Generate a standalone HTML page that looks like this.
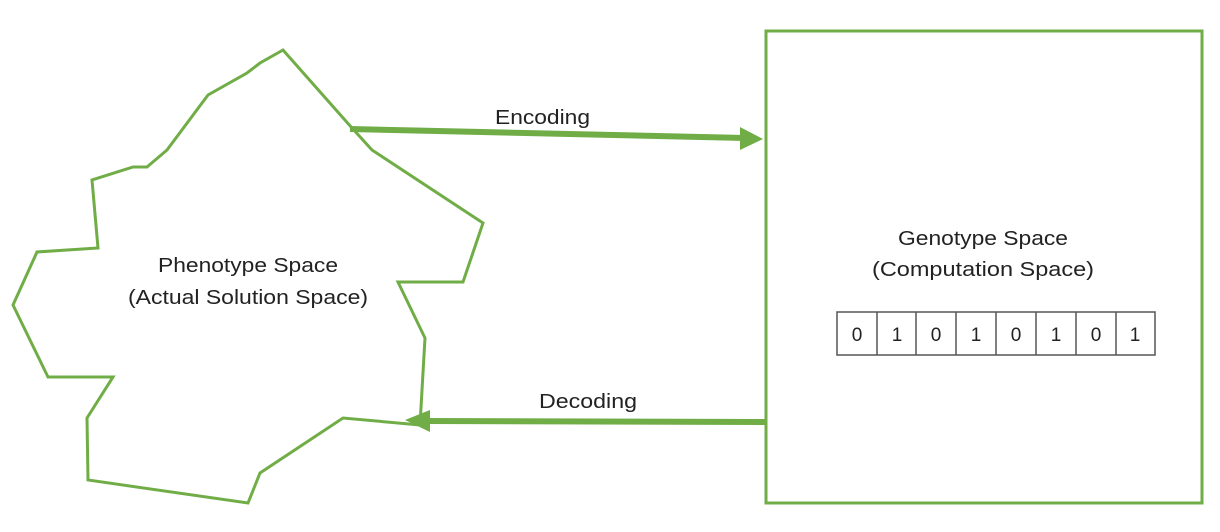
<!DOCTYPE html>
<html><head><meta charset="utf-8"><style>
body{margin:0;background:#fff;width:1220px;height:527px;overflow:hidden}
text{font-family:"Liberation Sans",sans-serif;fill:#222}
</style></head><body>
<svg width="1220" height="527" xmlns="http://www.w3.org/2000/svg">
<polygon points="283,50 260,63 247,73 208,95 167,150 147,167 133,167 92,180 98,248 37,252 13,305 48,377 113,377 87,418 88,480 248,503 260,473 343,418 420,425 425,338 398,282 463,282 483,223 372,150 352,128" fill="none" stroke="#70ad47" stroke-width="3" stroke-linejoin="miter"/>
<rect x="766" y="31" width="436" height="472" fill="none" stroke="#70ad47" stroke-width="3"/>
<line x1="350" y1="129" x2="745" y2="138" stroke="#70ad47" stroke-width="6"/>
<polygon points="740,127 763,139 740,150" fill="#70ad47"/>
<line x1="766" y1="422" x2="425" y2="421" stroke="#70ad47" stroke-width="6"/>
<polygon points="430,410 405,420 430,432" fill="#70ad47"/>
<text x="495" y="124" font-size="20" textLength="95" lengthAdjust="spacingAndGlyphs">Encoding</text>
<text x="539" y="408" font-size="20" textLength="98" lengthAdjust="spacingAndGlyphs">Decoding</text>
<text x="158" y="272" font-size="20" textLength="180" lengthAdjust="spacingAndGlyphs">Phenotype Space</text>
<text x="128" y="304" font-size="20" textLength="240" lengthAdjust="spacingAndGlyphs">(Actual Solution Space)</text>
<text x="898" y="245" font-size="20" textLength="170" lengthAdjust="spacingAndGlyphs">Genotype Space</text>
<text x="872" y="276" font-size="20" textLength="222" lengthAdjust="spacingAndGlyphs">(Computation Space)</text>
<g stroke="#555" stroke-width="1.5" fill="none">
<rect x="837" y="312" width="318" height="43"/>
<line x1="877" y1="312" x2="877" y2="355"/><line x1="916" y1="312" x2="916" y2="355"/>
<line x1="956" y1="312" x2="956" y2="355"/><line x1="996" y1="312" x2="996" y2="355"/>
<line x1="1036" y1="312" x2="1036" y2="355"/><line x1="1076" y1="312" x2="1076" y2="355"/>
<line x1="1116" y1="312" x2="1116" y2="355"/>
</g>
<g font-size="19" text-anchor="middle">
<text x="857" y="341">0</text><text x="897" y="341">1</text><text x="936" y="341">0</text><text x="976" y="341">1</text>
<text x="1016" y="341">0</text><text x="1056" y="341">1</text><text x="1096" y="341">0</text><text x="1135" y="341">1</text>
</g>
</svg>
</body></html>
